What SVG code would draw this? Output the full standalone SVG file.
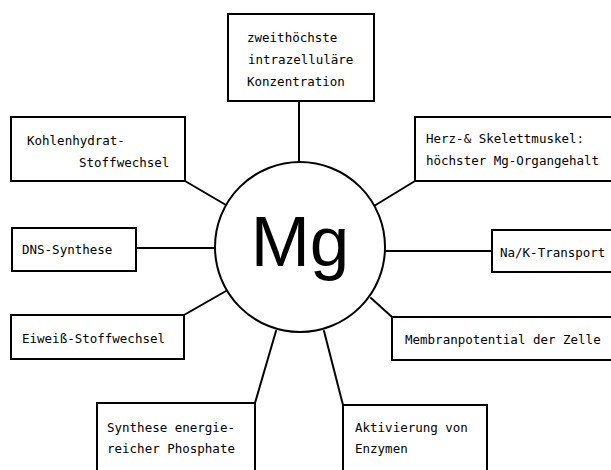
<svg xmlns="http://www.w3.org/2000/svg" width="611" height="470" viewBox="0 0 611 470">
<style>
.box{fill:#fff;stroke:#000;stroke-width:2}
.lbl{font-family:"DejaVu Sans Mono","Liberation Mono",monospace;font-size:12.5px;fill:#000}
.con line{stroke:#000;stroke-width:2;stroke-linecap:round}
</style>
<rect width="611" height="470" fill="#fff"/>
<g class="con" id="connectors">
<line x1="299" y1="101" x2="299" y2="162"/>
<line x1="185" y1="181" x2="226" y2="205"/>
<line x1="415" y1="181" x2="374" y2="206"/>
<line x1="136" y1="248" x2="215" y2="248"/>
<line x1="385" y1="251" x2="492" y2="251"/>
<line x1="184" y1="315" x2="226" y2="291"/>
<line x1="371" y1="298" x2="392" y2="317"/>
<line x1="255" y1="403" x2="276" y2="331"/>
<line x1="343" y1="405" x2="324" y2="331"/>
</g>
<g id="mg">
<circle cx="300" cy="247" r="85" fill="#fff" stroke="#000" stroke-width="2"/>
<text x="300" y="266" text-anchor="middle" font-family="'Liberation Sans',Arial,sans-serif" font-size="71">Mg</text>
</g>
<g id="konzentration">
<rect class="box" x="228" y="14" width="146" height="87"/>
<text class="lbl" x="247" y="42">zweithöchste</text>
<text class="lbl" x="248" y="64">intrazelluläre</text>
<text class="lbl" x="247" y="86">Konzentration</text>
</g>
<g id="kohlenhydrat">
<rect class="box" x="11" y="117" width="174" height="64"/>
<text class="lbl" x="27" y="145">Kohlenhydrat-</text>
<text class="lbl" x="79" y="167">Stoffwechsel</text>
</g>
<g id="herz">
<rect class="box" x="415" y="117" width="205" height="64"/>
<text class="lbl" x="426" y="143">Herz-&amp; Skelettmuskel:</text>
<text class="lbl" x="426" y="165">höchster Mg-Organgehalt</text>
</g>
<g id="dns">
<rect class="box" x="12" y="228" width="124" height="43"/>
<text class="lbl" x="22" y="254">DNS-Synthese</text>
</g>
<g id="nak">
<rect class="box" x="492" y="230" width="128" height="42"/>
<text class="lbl" x="500" y="257">Na/K-Transport</text>
</g>
<g id="eiweiss">
<rect class="box" x="11" y="315" width="173" height="44"/>
<text class="lbl" x="22" y="343">Eiweiß-Stoffwechsel</text>
</g>
<g id="membran">
<rect class="box" x="392" y="317" width="228" height="43"/>
<text class="lbl" x="405" y="344">Membranpotential der Zelle</text>
</g>
<g id="phosphate">
<rect class="box" x="97" y="403" width="158" height="80"/>
<text class="lbl" x="107" y="432">Synthese energie-</text>
<text class="lbl" x="107" y="453">reicher Phosphate</text>
</g>
<g id="enzyme">
<rect class="box" x="343" y="405" width="144" height="80"/>
<text class="lbl" x="355" y="432">Aktivierung von</text>
<text class="lbl" x="355" y="453">Enzymen</text>
</g>
</svg>
